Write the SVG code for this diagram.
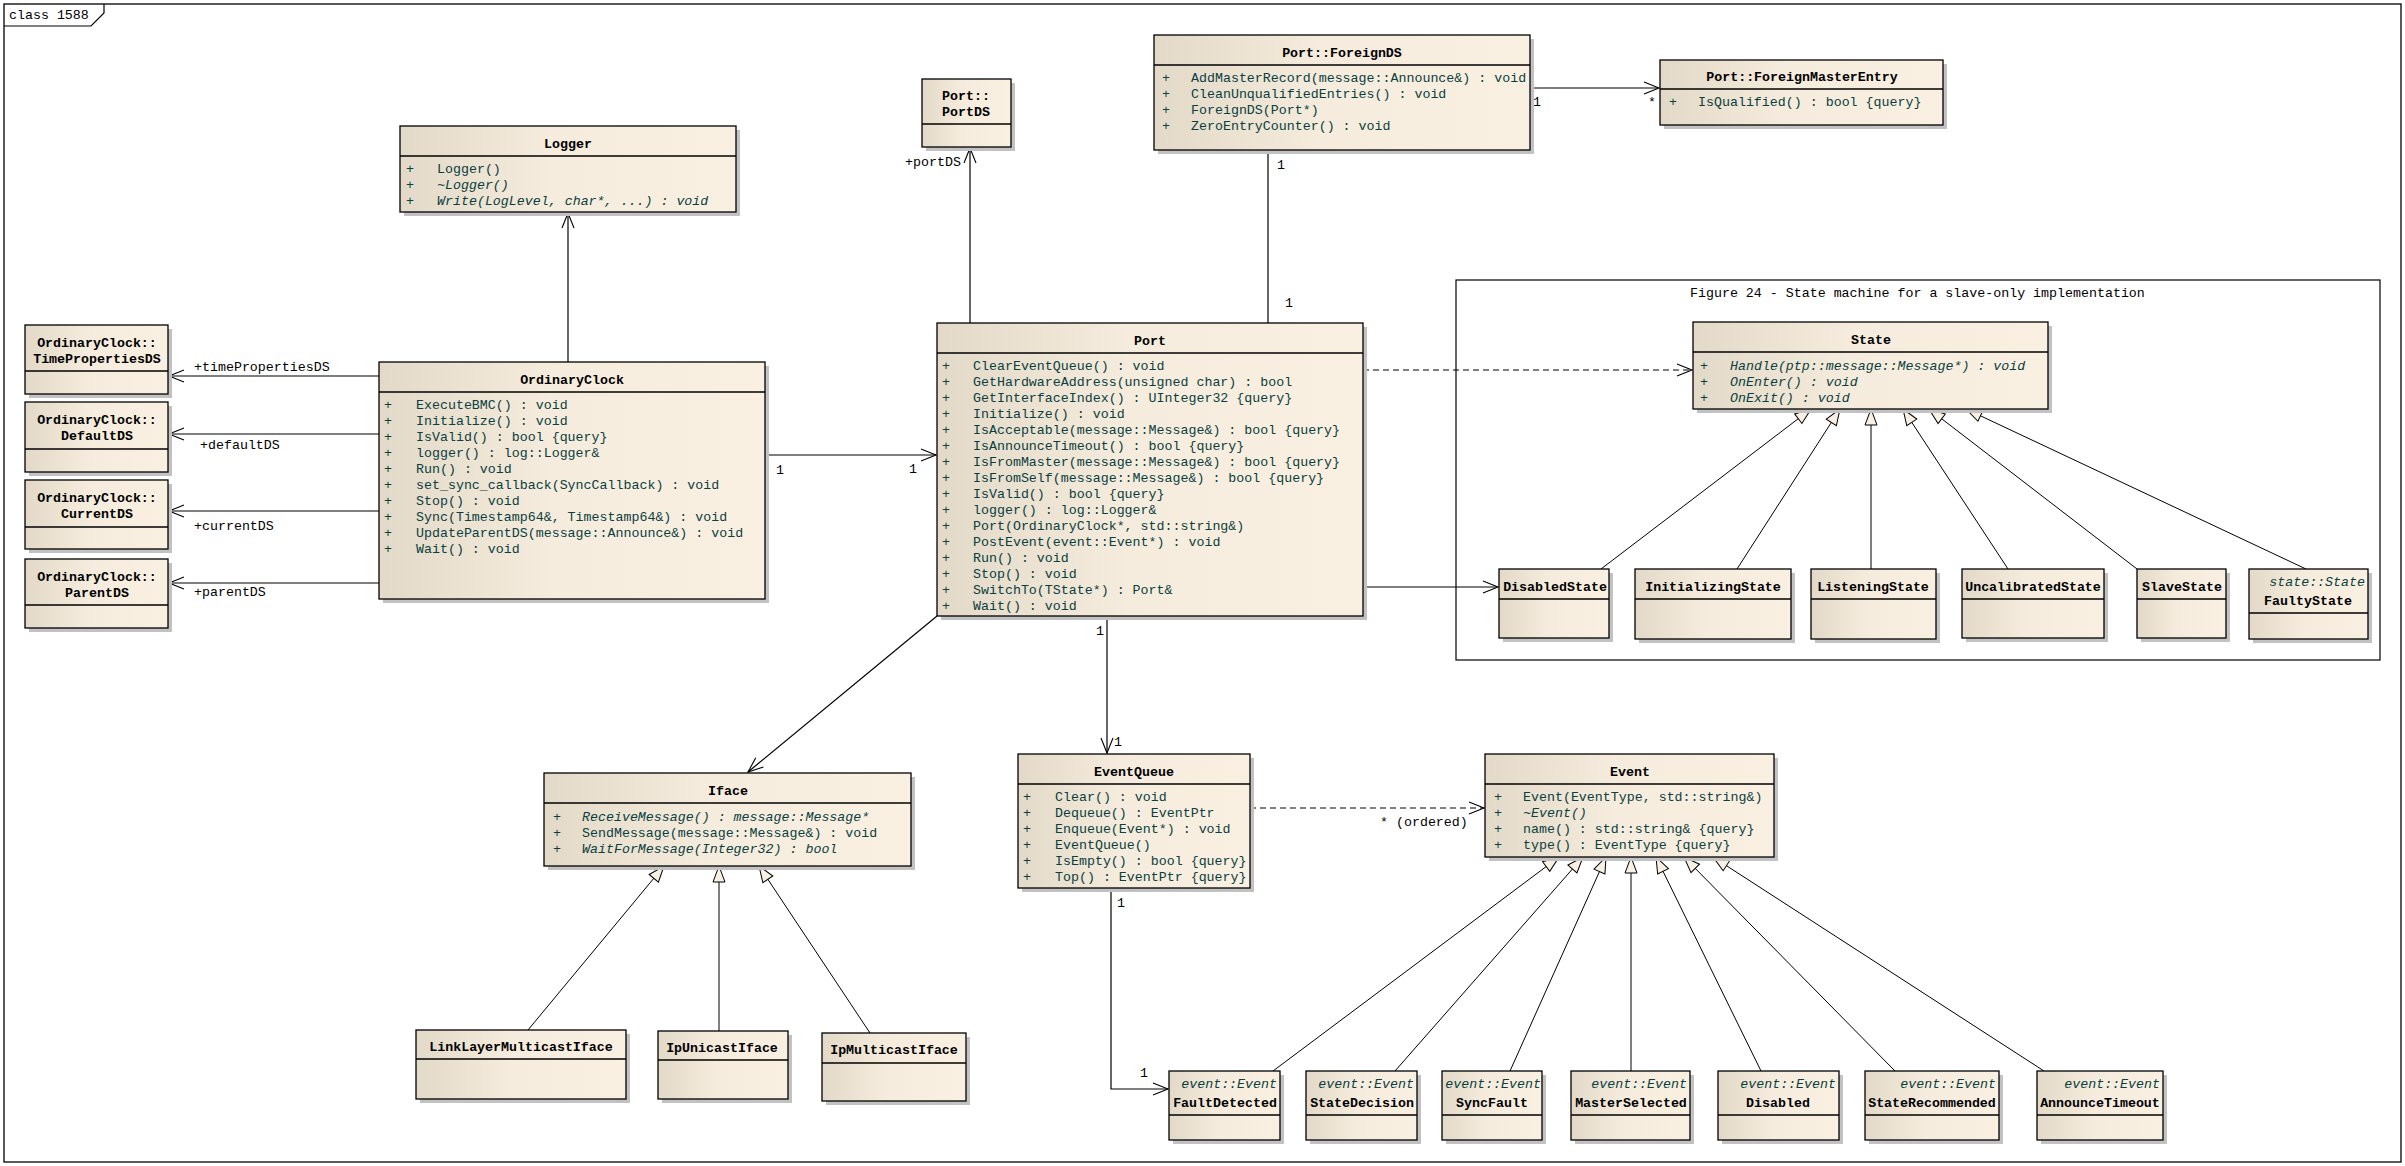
<svg xmlns="http://www.w3.org/2000/svg" width="2405" height="1166" viewBox="0 0 2405 1166">
<defs>
<linearGradient id="g" x1="0" y1="0" x2="1" y2="0">
<stop offset="0" stop-color="#E2D9C8"/>
<stop offset="0.45" stop-color="#F5ECDD"/>
<stop offset="1" stop-color="#FAF0E2"/>
</linearGradient>
<marker id="arr" markerUnits="userSpaceOnUse" markerWidth="17" markerHeight="15" refX="15" refY="7" orient="auto" overflow="visible">
<path d="M0,1 L15,7 L0,13" fill="none" stroke="#000" stroke-width="1.1"/>
</marker>
<marker id="tri" markerUnits="userSpaceOnUse" markerWidth="18" markerHeight="15" refX="16" refY="7" orient="auto" overflow="visible">
<path d="M0,1 L16,7 L0,13 Z" fill="#F8F0E2" stroke="#000" stroke-width="1"/>
</marker>
</defs>
<style>
text{font-family:"Liberation Mono","DejaVu Sans Mono",monospace;font-size:13.3px}
.t{font-weight:bold;fill:#000;text-anchor:middle}
.m{fill:#0A4040}
.i{font-style:italic}
.r{text-anchor:end}
.lb{fill:#000}
.box{fill:url(#g);stroke:#000;stroke-width:1.3}
.sh{fill:#C2C2C2}
.hl{stroke:#000;stroke-width:1.3}
.as{stroke:#000;stroke-width:1.2;fill:none;marker-end:url(#arr)}
.ln{stroke:#000;stroke-width:1.2;fill:none}
.dep{stroke:#000;stroke-width:1.2;fill:none;stroke-dasharray:6,4;marker-end:url(#arr)}
.gen{stroke:#000;stroke-width:1;fill:none;marker-end:url(#tri)}
</style>
<rect x="0" y="0" width="2405" height="1166" fill="#fff"/>
<g id="frame">
<rect x="4" y="4" width="2397" height="1158" fill="none" stroke="#000" stroke-width="1.3"/>
<path d="M4,26 H91 L104,13 V4" fill="none" stroke="#000" stroke-width="1.2"/>
<text class="lb" x="9" y="19">class 1588</text>
</g>
<g id="figure24">
<rect x="1456" y="280" width="924" height="380" fill="none" stroke="#000" stroke-width="1.2"/>
<text class="lb" x="1690" y="297">Figure 24 - State machine for a slave-only implementation</text>
</g>
<g id="connectors">
<line class="as" x1="568" y1="362" x2="568" y2="213"/>
<line class="as" x1="379" y1="376" x2="169" y2="376"/>
<line class="as" x1="379" y1="434" x2="169" y2="434"/>
<line class="as" x1="379" y1="511" x2="169" y2="511"/>
<line class="as" x1="379" y1="583" x2="169" y2="583"/>
<line class="as" x1="765" y1="455" x2="936" y2="455"/>
<line class="as" x1="970" y1="323" x2="970" y2="148"/>
<line class="ln" x1="1268" y1="150" x2="1268" y2="323"/>
<line class="as" x1="1530" y1="88" x2="1659" y2="88"/>
<line class="dep" x1="1363" y1="370" x2="1692" y2="370"/>
<line class="as" x1="1363" y1="587" x2="1498" y2="587"/>
<line class="as" x1="937" y1="616" x2="748" y2="772"/>
<line class="as" x1="1107" y1="616" x2="1107" y2="753"/>
<line class="dep" x1="1250" y1="808" x2="1484" y2="808"/>
<path class="as" d="M1111,888 V1089 H1168"/>
<line class="gen" x1="1601" y1="569" x2="1811" y2="409"/>
<line class="gen" x1="1737" y1="569" x2="1840" y2="409"/>
<line class="gen" x1="1871" y1="569" x2="1871" y2="409"/>
<line class="gen" x1="2008" y1="569" x2="1903" y2="409"/>
<line class="gen" x1="2137" y1="569" x2="1929" y2="409"/>
<line class="gen" x1="2306" y1="569" x2="1966" y2="409"/>
<line class="gen" x1="528" y1="1030" x2="664" y2="866"/>
<line class="gen" x1="719" y1="1031" x2="719" y2="866"/>
<line class="gen" x1="870" y1="1033" x2="759" y2="866"/>
<line class="gen" x1="1273" y1="1071" x2="1559" y2="857"/>
<line class="gen" x1="1395" y1="1071" x2="1583" y2="857"/>
<line class="gen" x1="1510" y1="1071" x2="1606" y2="857"/>
<line class="gen" x1="1631" y1="1071" x2="1631" y2="857"/>
<line class="gen" x1="1761" y1="1071" x2="1656" y2="857"/>
<line class="gen" x1="1895" y1="1071" x2="1684" y2="857"/>
<line class="gen" x1="2044" y1="1071" x2="1713" y2="857"/>
<text class="lb" x="194" y="371">+timePropertiesDS</text>
<text class="lb" x="200" y="449">+defaultDS</text>
<text class="lb" x="194" y="530">+currentDS</text>
<text class="lb" x="194" y="596">+parentDS</text>
<text class="lb" x="776" y="474">1</text>
<text class="lb" x="909" y="473">1</text>
<text class="lb" x="905" y="166">+portDS</text>
<text class="lb" x="1277" y="169">1</text>
<text class="lb" x="1285" y="307">1</text>
<text class="lb" x="1533" y="106">1</text>
<text class="lb" x="1648" y="106">*</text>
<text class="lb" x="1096" y="635">1</text>
<text class="lb" x="1114" y="746">1</text>
<text class="lb" x="1380" y="826">* (ordered)</text>
<text class="lb" x="1117" y="907">1</text>
<text class="lb" x="1140" y="1077">1</text>
</g>
<g id="Logger">
<rect class="sh" x="404" y="130" width="336" height="86"/>
<rect class="box" x="400" y="126" width="336" height="86"/>
<line class="hl" x1="400" y1="156" x2="736" y2="156"/>
<text class="t" x="568" y="148">Logger</text>
<text class="m" x="406" y="173">+</text><text class="m" x="437" y="173">Logger()</text>
<text class="m" x="406" y="189">+</text><text class="m i" x="437" y="189">~Logger()</text>
<text class="m" x="406" y="205">+</text><text class="m i" x="437" y="205">Write(LogLevel, char*, ...) : void</text>
</g>
<g id="OrdinaryClock">
<rect class="sh" x="383" y="366" width="386" height="237"/>
<rect class="box" x="379" y="362" width="386" height="237"/>
<line class="hl" x1="379" y1="392" x2="765" y2="392"/>
<text class="t" x="572" y="384">OrdinaryClock</text>
<g class="m">
<text x="384" y="409">+</text><text x="416" y="409">ExecuteBMC() : void</text>
<text x="384" y="425">+</text><text x="416" y="425">Initialize() : void</text>
<text x="384" y="441">+</text><text x="416" y="441">IsValid() : bool {query}</text>
<text x="384" y="457">+</text><text x="416" y="457">logger() : log::Logger&amp;</text>
<text x="384" y="473">+</text><text x="416" y="473">Run() : void</text>
<text x="384" y="489">+</text><text x="416" y="489">set_sync_callback(SyncCallback) : void</text>
<text x="384" y="505">+</text><text x="416" y="505">Stop() : void</text>
<text x="384" y="521">+</text><text x="416" y="521">Sync(Timestamp64&amp;, Timestamp64&amp;) : void</text>
<text x="384" y="537">+</text><text x="416" y="537">UpdateParentDS(message::Announce&amp;) : void</text>
<text x="384" y="553">+</text><text x="416" y="553">Wait() : void</text>
</g>
</g>
<g id="TimePropertiesDS">
<rect class="sh" x="29" y="329" width="143" height="69"/>
<rect class="box" x="25" y="325" width="143" height="69"/>
<line class="hl" x1="25" y1="371" x2="168" y2="371"/>
<text class="t" x="97" y="347">OrdinaryClock::</text>
<text class="t" x="97" y="363">TimePropertiesDS</text>
</g>
<g id="DefaultDS">
<rect class="sh" x="29" y="406" width="143" height="70"/>
<rect class="box" x="25" y="402" width="143" height="70"/>
<line class="hl" x1="25" y1="449" x2="168" y2="449"/>
<text class="t" x="97" y="424">OrdinaryClock::</text>
<text class="t" x="97" y="440">DefaultDS</text>
</g>
<g id="CurrentDS">
<rect class="sh" x="29" y="484" width="143" height="69"/>
<rect class="box" x="25" y="480" width="143" height="69"/>
<line class="hl" x1="25" y1="527" x2="168" y2="527"/>
<text class="t" x="97" y="502">OrdinaryClock::</text>
<text class="t" x="97" y="518">CurrentDS</text>
</g>
<g id="ParentDS">
<rect class="sh" x="29" y="563" width="143" height="69"/>
<rect class="box" x="25" y="559" width="143" height="69"/>
<line class="hl" x1="25" y1="605" x2="168" y2="605"/>
<text class="t" x="97" y="581">OrdinaryClock::</text>
<text class="t" x="97" y="597">ParentDS</text>
</g>
<g id="PortDS">
<rect class="sh" x="926" y="83" width="89" height="68"/>
<rect class="box" x="922" y="79" width="89" height="68"/>
<line class="hl" x1="922" y1="124" x2="1011" y2="124"/>
<text class="t" x="966" y="100">Port::</text>
<text class="t" x="966" y="116">PortDS</text>
</g>
<g id="ForeignDS">
<rect class="sh" x="1158" y="39" width="376" height="115"/>
<rect class="box" x="1154" y="35" width="376" height="115"/>
<line class="hl" x1="1154" y1="65" x2="1530" y2="65"/>
<text class="t" x="1342" y="57">Port::ForeignDS</text>
<g class="m">
<text x="1162" y="82">+</text><text x="1191" y="82">AddMasterRecord(message::Announce&amp;) : void</text>
<text x="1162" y="98">+</text><text x="1191" y="98">CleanUnqualifiedEntries() : void</text>
<text x="1162" y="114">+</text><text x="1191" y="114">ForeignDS(Port*)</text>
<text x="1162" y="130">+</text><text x="1191" y="130">ZeroEntryCounter() : void</text>
</g>
</g>
<g id="ForeignMasterEntry">
<rect class="sh" x="1664" y="64" width="283" height="65"/>
<rect class="box" x="1660" y="60" width="283" height="65"/>
<line class="hl" x1="1660" y1="89" x2="1943" y2="89"/>
<text class="t" x="1802" y="81">Port::ForeignMasterEntry</text>
<text class="m" x="1669" y="106">+</text><text class="m" x="1698" y="106">IsQualified() : bool {query}</text>
</g>
<g id="Port">
<rect class="sh" x="941" y="327" width="426" height="293"/>
<rect class="box" x="937" y="323" width="426" height="293"/>
<line class="hl" x1="937" y1="353" x2="1363" y2="353"/>
<text class="t" x="1150" y="345">Port</text>
<g class="m">
<text x="942" y="370">+</text><text x="973" y="370">ClearEventQueue() : void</text>
<text x="942" y="386">+</text><text x="973" y="386">GetHardwareAddress(unsigned char) : bool</text>
<text x="942" y="402">+</text><text x="973" y="402">GetInterfaceIndex() : UInteger32 {query}</text>
<text x="942" y="418">+</text><text x="973" y="418">Initialize() : void</text>
<text x="942" y="434">+</text><text x="973" y="434">IsAcceptable(message::Message&amp;) : bool {query}</text>
<text x="942" y="450">+</text><text x="973" y="450">IsAnnounceTimeout() : bool {query}</text>
<text x="942" y="466">+</text><text x="973" y="466">IsFromMaster(message::Message&amp;) : bool {query}</text>
<text x="942" y="482">+</text><text x="973" y="482">IsFromSelf(message::Message&amp;) : bool {query}</text>
<text x="942" y="498">+</text><text x="973" y="498">IsValid() : bool {query}</text>
<text x="942" y="514">+</text><text x="973" y="514">logger() : log::Logger&amp;</text>
<text x="942" y="530">+</text><text x="973" y="530">Port(OrdinaryClock*, std::string&amp;)</text>
<text x="942" y="546">+</text><text x="973" y="546">PostEvent(event::Event*) : void</text>
<text x="942" y="562">+</text><text x="973" y="562">Run() : void</text>
<text x="942" y="578">+</text><text x="973" y="578">Stop() : void</text>
<text x="942" y="594">+</text><text x="973" y="594">SwitchTo(TState*) : Port&amp;</text>
<text x="942" y="610">+</text><text x="973" y="610">Wait() : void</text>
</g>
</g>
<g id="State">
<rect class="sh" x="1697" y="326" width="355" height="87"/>
<rect class="box" x="1693" y="322" width="355" height="87"/>
<line class="hl" x1="1693" y1="352" x2="2048" y2="352"/>
<text class="t" x="1871" y="344">State</text>
<g class="m">
<text x="1700" y="370">+</text><text class="i" x="1730" y="370">Handle(ptp::message::Message*) : void</text>
<text x="1700" y="386">+</text><text class="i" x="1730" y="386">OnEnter() : void</text>
<text x="1700" y="402">+</text><text class="i" x="1730" y="402">OnExit() : void</text>
</g>
</g>
<g id="DisabledState">
<rect class="sh" x="1503" y="573" width="110" height="69"/>
<rect class="box" x="1499" y="569" width="110" height="69"/>
<line class="hl" x1="1499" y1="599" x2="1609" y2="599"/>
<text class="t" x="1555" y="591">DisabledState</text>
</g>
<g id="InitializingState">
<rect class="sh" x="1639" y="573" width="156" height="70"/>
<rect class="box" x="1635" y="569" width="156" height="70"/>
<line class="hl" x1="1635" y1="599" x2="1791" y2="599"/>
<text class="t" x="1713" y="591">InitializingState</text>
</g>
<g id="ListeningState">
<rect class="sh" x="1815" y="573" width="125" height="70"/>
<rect class="box" x="1811" y="569" width="125" height="70"/>
<line class="hl" x1="1811" y1="599" x2="1936" y2="599"/>
<text class="t" x="1873" y="591">ListeningState</text>
</g>
<g id="UncalibratedState">
<rect class="sh" x="1966" y="573" width="142" height="69"/>
<rect class="box" x="1962" y="569" width="142" height="69"/>
<line class="hl" x1="1962" y1="599" x2="2104" y2="599"/>
<text class="t" x="2033" y="591">UncalibratedState</text>
</g>
<g id="SlaveState">
<rect class="sh" x="2141" y="573" width="89" height="69"/>
<rect class="box" x="2137" y="569" width="89" height="69"/>
<line class="hl" x1="2137" y1="599" x2="2226" y2="599"/>
<text class="t" x="2182" y="591">SlaveState</text>
</g>
<g id="FaultyState">
<rect class="sh" x="2253" y="573" width="119" height="70"/>
<rect class="box" x="2249" y="569" width="119" height="70"/>
<line class="hl" x1="2249" y1="613" x2="2368" y2="613"/>
<text class="m i r" x="2365" y="586">state::State</text>
<text class="t" x="2308" y="605">FaultyState</text>
</g>
<g id="Iface">
<rect class="sh" x="548" y="777" width="367" height="93"/>
<rect class="box" x="544" y="773" width="367" height="93"/>
<line class="hl" x1="544" y1="803" x2="911" y2="803"/>
<text class="t" x="728" y="795">Iface</text>
<g class="m">
<text x="553" y="821">+</text><text class="i" x="582" y="821">ReceiveMessage() : message::Message*</text>
<text x="553" y="837">+</text><text x="582" y="837">SendMessage(message::Message&amp;) : void</text>
<text x="553" y="853">+</text><text class="i" x="582" y="853">WaitForMessage(Integer32) : bool</text>
</g>
</g>
<g id="LinkLayerMulticastIface">
<rect class="sh" x="420" y="1034" width="210" height="69"/>
<rect class="box" x="416" y="1030" width="210" height="69"/>
<line class="hl" x1="416" y1="1059" x2="626" y2="1059"/>
<text class="t" x="521" y="1051">LinkLayerMulticastIface</text>
</g>
<g id="IpUnicastIface">
<rect class="sh" x="662" y="1035" width="130" height="68"/>
<rect class="box" x="658" y="1031" width="130" height="68"/>
<line class="hl" x1="658" y1="1060" x2="788" y2="1060"/>
<text class="t" x="722" y="1052">IpUnicastIface</text>
</g>
<g id="IpMulticastIface">
<rect class="sh" x="826" y="1037" width="144" height="68"/>
<rect class="box" x="822" y="1033" width="144" height="68"/>
<line class="hl" x1="822" y1="1063" x2="966" y2="1063"/>
<text class="t" x="894" y="1054">IpMulticastIface</text>
</g>
<g id="EventQueue">
<rect class="sh" x="1022" y="758" width="232" height="134"/>
<rect class="box" x="1018" y="754" width="232" height="134"/>
<line class="hl" x1="1018" y1="784" x2="1250" y2="784"/>
<text class="t" x="1134" y="776">EventQueue</text>
<g class="m">
<text x="1023" y="801">+</text><text x="1055" y="801">Clear() : void</text>
<text x="1023" y="817">+</text><text x="1055" y="817">Dequeue() : EventPtr</text>
<text x="1023" y="833">+</text><text x="1055" y="833">Enqueue(Event*) : void</text>
<text x="1023" y="849">+</text><text x="1055" y="849">EventQueue()</text>
<text x="1023" y="865">+</text><text x="1055" y="865">IsEmpty() : bool {query}</text>
<text x="1023" y="881">+</text><text x="1055" y="881">Top() : EventPtr {query}</text>
</g>
</g>
<g id="Event">
<rect class="sh" x="1489" y="758" width="289" height="103"/>
<rect class="box" x="1485" y="754" width="289" height="103"/>
<line class="hl" x1="1485" y1="784" x2="1774" y2="784"/>
<text class="t" x="1630" y="776">Event</text>
<g class="m">
<text x="1494" y="801">+</text><text x="1523" y="801">Event(EventType, std::string&amp;)</text>
<text x="1494" y="817">+</text><text class="i" x="1523" y="817">~Event()</text>
<text x="1494" y="833">+</text><text x="1523" y="833">name() : std::string&amp; {query}</text>
<text x="1494" y="849">+</text><text x="1523" y="849">type() : EventType {query}</text>
</g>
</g>
<g id="FaultDetected">
<rect class="sh" x="1173" y="1075" width="111" height="69"/>
<rect class="box" x="1169" y="1071" width="111" height="69"/>
<line class="hl" x1="1169" y1="1115" x2="1280" y2="1115"/>
<text class="m i r" x="1277" y="1088">event::Event</text>
<text class="t" x="1225" y="1107">FaultDetected</text>
</g>
<g id="StateDecision">
<rect class="sh" x="1310" y="1075" width="111" height="69"/>
<rect class="box" x="1306" y="1071" width="111" height="69"/>
<line class="hl" x1="1306" y1="1115" x2="1417" y2="1115"/>
<text class="m i r" x="1414" y="1088">event::Event</text>
<text class="t" x="1362" y="1107">StateDecision</text>
</g>
<g id="SyncFault">
<rect class="sh" x="1446" y="1075" width="100" height="69"/>
<rect class="box" x="1442" y="1071" width="100" height="69"/>
<line class="hl" x1="1442" y1="1115" x2="1542" y2="1115"/>
<text class="m i r" x="1541" y="1088">event::Event</text>
<text class="t" x="1492" y="1107">SyncFault</text>
</g>
<g id="MasterSelected">
<rect class="sh" x="1575" y="1075" width="119" height="69"/>
<rect class="box" x="1571" y="1071" width="119" height="69"/>
<line class="hl" x1="1571" y1="1115" x2="1690" y2="1115"/>
<text class="m i r" x="1687" y="1088">event::Event</text>
<text class="t" x="1631" y="1107">MasterSelected</text>
</g>
<g id="Disabled">
<rect class="sh" x="1722" y="1075" width="121" height="69"/>
<rect class="box" x="1718" y="1071" width="121" height="69"/>
<line class="hl" x1="1718" y1="1115" x2="1839" y2="1115"/>
<text class="m i r" x="1836" y="1088">event::Event</text>
<text class="t" x="1778" y="1107">Disabled</text>
</g>
<g id="StateRecommended">
<rect class="sh" x="1869" y="1075" width="134" height="69"/>
<rect class="box" x="1865" y="1071" width="134" height="69"/>
<line class="hl" x1="1865" y1="1115" x2="1999" y2="1115"/>
<text class="m i r" x="1996" y="1088">event::Event</text>
<text class="t" x="1932" y="1107">StateRecommended</text>
</g>
<g id="AnnounceTimeout">
<rect class="sh" x="2041" y="1075" width="126" height="69"/>
<rect class="box" x="2037" y="1071" width="126" height="69"/>
<line class="hl" x1="2037" y1="1115" x2="2163" y2="1115"/>
<text class="m i r" x="2160" y="1088">event::Event</text>
<text class="t" x="2100" y="1107">AnnounceTimeout</text>
</g>
</svg>
